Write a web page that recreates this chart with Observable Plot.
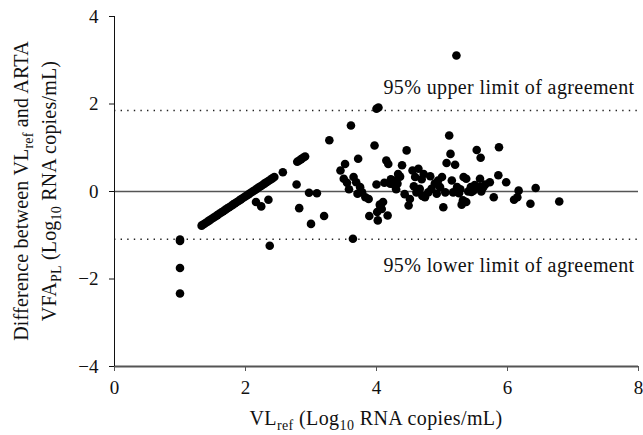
<!DOCTYPE html>
<html>
<head>
<meta charset="utf-8">
<script src="https://cdn.jsdelivr.net/npm/d3@7"></script>
<script src="https://cdn.jsdelivr.net/npm/@observablehq/plot@0.6"></script>
<style>
  html, body { margin: 0; padding: 0; background: #fff; }
  #chart { width: 643px; height: 435px; }
  #chart svg, #chart svg text { font-family: 'Liberation Serif', 'Times New Roman', serif !important; }
</style>
</head>
<body>
<div id="chart"></div>
<script>
// VL_ref (log10 RNA copies/mL)
const vlRef = [
  1.0, 1.0, 1.0, 1.0,
  1.33, 1.36, 1.39, 1.42, 1.45, 1.48, 1.51, 1.54, 1.57, 1.60, 1.63, 1.66, 1.69, 1.72, 1.75, 1.78, 1.81, 1.84, 1.87,
  1.90, 1.93, 1.96, 1.99, 2.02, 2.05, 2.08, 2.11, 2.14, 2.17, 2.20, 2.23, 2.26, 2.29, 2.32, 2.35, 2.38, 2.41, 2.44,
  2.57, 2.79, 2.82, 2.85, 2.88, 2.91,
  2.16, 2.24, 2.35, 2.37, 2.78, 2.82, 2.97, 3.00, 3.09, 3.20, 3.28,
  3.45, 3.50, 3.52, 3.61, 3.64, 3.65, 3.69, 3.72, 3.75, 3.78, 3.83, 3.88, 3.89, 3.97, 4.00, 4.01, 4.02, 4.00, 4.03,
  4.05, 4.10, 4.15, 4.17, 4.18, 4.21, 4.26, 4.28, 4.33, 4.32, 4.39, 4.46, 4.49, 4.51, 4.55, 4.59, 4.61, 4.64, 4.66,
  4.72, 4.74, 4.79, 4.84, 4.89, 4.94, 5.00, 5.02, 5.05, 5.11, 5.13, 5.07, 5.15, 5.17, 5.22,
  3.55, 3.58, 3.71, 4.22, 4.12, 4.30, 4.36, 4.43, 4.57, 4.69, 4.70, 4.82, 4.92, 4.97, 4.06, 4.08,
  5.20, 5.23, 5.26, 5.30, 5.33, 5.37, 5.37, 5.40, 5.44, 5.48, 5.53, 5.59, 5.58, 5.58, 5.63, 5.60, 5.66, 5.73, 5.79,
  5.86, 5.87, 5.98, 6.10, 6.15, 6.17, 6.35, 6.43, 6.79, 5.32, 5.28, 5.45, 5.50
];
// Difference between VL_ref and ARTA VFA_PL (log10 RNA copies/mL)
const diff = [
  -1.10, -1.13, -1.75, -2.33,
  -0.78, -0.75, -0.72, -0.69, -0.66, -0.63, -0.60, -0.57, -0.54, -0.51, -0.48, -0.45, -0.42, -0.39, -0.36, -0.33, -0.30, -0.27, -0.24,
  -0.21, -0.18, -0.15, -0.12, -0.09, -0.06, -0.03, 0.00, 0.03, 0.06, 0.09, 0.12, 0.15, 0.18, 0.21, 0.24, 0.27, 0.30, 0.33,
  0.44, 0.68, 0.71, 0.74, 0.77, 0.80,
  -0.24, -0.34, -0.19, -1.24, 0.16, -0.38, -0.03, -0.74, -0.04, -0.56, 1.17,
  0.48, 0.29, 0.63, 1.51, -1.08, 0.33, 0.21, 0.75, 0.10, -0.02, -0.13, -0.17, -0.56, 1.05, 0.16, -0.47, -0.66, 1.89, 1.92,
  -0.30, -0.24, 0.71, -0.55, 0.63, 0.18, 0.25, 0.14, 0.40, 0.18, 0.60, 0.94, -0.32, -0.17, 0.48, 0.33, -0.02, 0.52, 0.06,
  0.40, -0.13, -0.02, 0.06, 0.18, 0.25, 0.33, -0.36, -0.02, 1.28, 0.86, 0.65, 0.25, -0.02, 3.11,
  0.20, 0.05, -0.05, 0.28, 0.20, 0.05, 0.34, -0.06, 0.12, 0.28, -0.10, 0.35, -0.05, 0.10, -0.34, -0.40,
  0.61, 0.10, -0.04, -0.30, 0.33, 0.29, -0.24, 0.00, 0.10, 0.02, 0.95, 0.77, 0.29, 0.10, 0.10, 0.00, 0.16, 0.21, -0.13,
  0.37, 1.01, 0.21, -0.19, -0.13, 0.02, -0.28, 0.08, -0.23, -0.20, 0.05, -0.01, 0.15
];
const xTicks = [0, 2, 4, 6, 8];
const yTicks = [-4, -2, 0, 2, 4];
const meanDiff = [0];
const limits = [1.85, -1.09];
const limitLabels = ["95% upper limit of agreement", "95% lower limit of agreement"];
const limitLabelY = [2.38, -1.7];

const points = vlRef.map((x, i) => ({x, y: diff[i]}));
const labelRows = limitLabels.map((t, i) => ({t, y: limitLabelY[i]}));

const FONT = "'Liberation Serif', 'Times New Roman', serif";

const plot = Plot.plot({
  width: 643,
  height: 435,
  marginLeft: 114,
  marginRight: 5,
  marginTop: 16,
  marginBottom: 69,
  style: {fontFamily: FONT, fontSize: "18px", color: "#111", background: "#fff"},
  x: {domain: [0, 8], ticks: xTicks, tickSize: 5, tickPadding: 9, label: null},
  y: {domain: [-4, 4], ticks: yTicks, tickSize: 5, tickPadding: 11, label: null},
  marks: [
    Plot.ruleY(limits, {stroke: "#222", strokeWidth: 1.4, strokeDasharray: "1.4,5.2"}),
    Plot.ruleY(meanDiff, {stroke: "#555", strokeWidth: 1.6}),
    Plot.ruleY([-4], {stroke: "#555", strokeWidth: 2}),
    Plot.ruleX([0], {y1: -4, y2: 4, stroke: "#111", strokeWidth: 1}),
    Plot.axisX({ticks: xTicks, tickSize: 5, tickPadding: 9, stroke: "#555", fontSize: 19, fontFamily: FONT, label: null}),
    Plot.axisY({ticks: yTicks, tickSize: 5, tickPadding: 11, stroke: "#111", fontSize: 19, fontFamily: FONT, label: null, tickFormat: d => d3.format("d")(d)}),
    Plot.dot(points, {x: "x", y: "y", r: 4.3, fill: "#000", stroke: null}),
    Plot.text(labelRows, {x: () => 8, y: "y", text: "t", textAnchor: "end", dx: -4, fontSize: 20, fontFamily: FONT, fill: "#111"})
  ]
});

document.getElementById("chart").appendChild(plot);

const svg = d3.select(plot);
svg.selectAll("text").filter(function () { return this.closest("g") && this.textContent.includes("agreement"); })
  .style("letter-spacing", "0.4px");

const xs = plot.scale("x");
const ys = plot.scale("y");
const xMid = (xs.range[0] + xs.range[1]) / 2;
const yMid = (ys.range[0] + ys.range[1]) / 2;

function rich(textSel, parts) {
  let shifted = false;
  parts.forEach(([t, sub]) => {
    const ts = textSel.append("tspan").text(t);
    if (sub && !shifted) { ts.attr("dy", 5).attr("font-size", "14px"); shifted = true; }
    else if (sub) { ts.attr("font-size", "14px"); }
    else if (!sub && shifted) { ts.attr("dy", -5); shifted = false; }
  });
}

const xLabel = svg.append("text")
  .attr("x", xMid).attr("y", 425)
  .attr("text-anchor", "middle")
  .attr("font-family", FONT).attr("font-size", 20).attr("fill", "#111")
  .style("letter-spacing", "0.4px");
rich(xLabel, [["VL"], ["ref", true], [" (Log"], ["10", true], [" RNA copies/mL)"]]);

const yLabel1 = svg.append("text")
  .attr("transform", `translate(28,${yMid}) rotate(-90)`)
  .attr("text-anchor", "middle")
  .attr("font-family", FONT).attr("font-size", 20).attr("fill", "#111")
  .style("letter-spacing", "0.2px");
rich(yLabel1, [["Difference between VL"], ["ref", true], [" and ARTA"]]);

const yLabel2 = svg.append("text")
  .attr("transform", `translate(56,${yMid}) rotate(-90)`)
  .attr("text-anchor", "middle")
  .attr("font-family", FONT).attr("font-size", 20).attr("fill", "#111")
  .style("letter-spacing", "0.2px");
rich(yLabel2, [["VFA"], ["PL", true], [" (Log"], ["10", true], [" RNA copies/mL)"]]);
</script>
</body>
</html>
